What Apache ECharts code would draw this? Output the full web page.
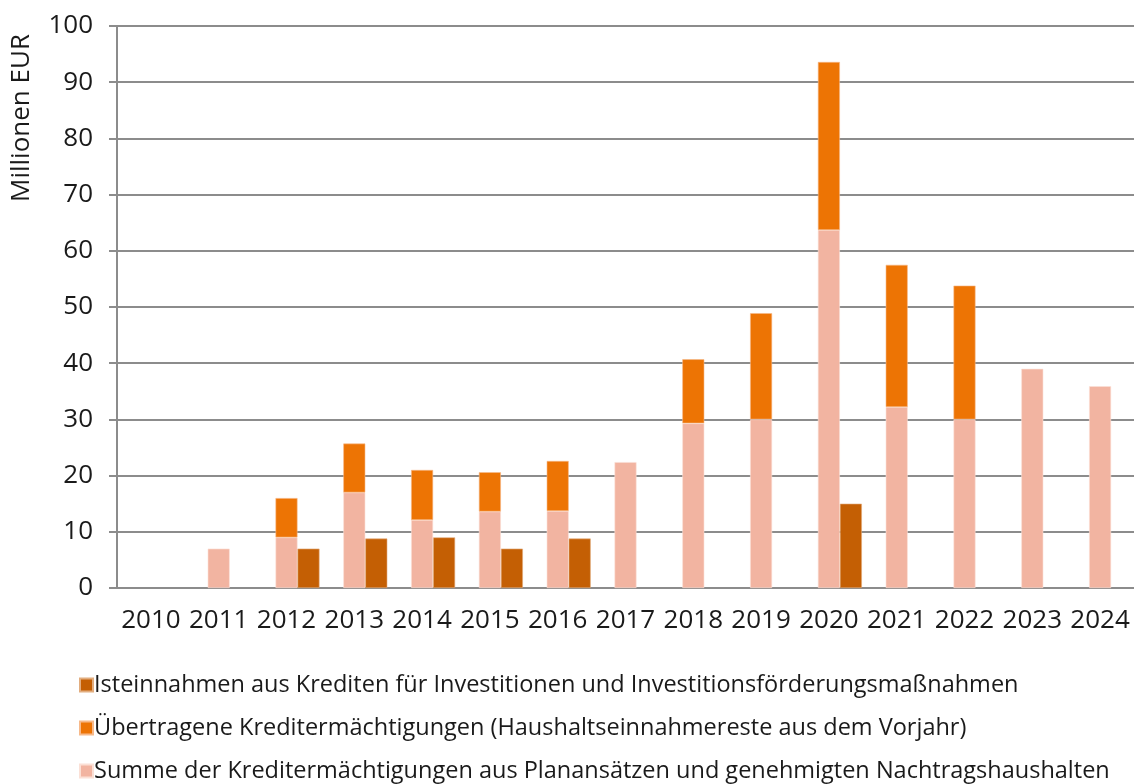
<!DOCTYPE html>
<html>
<head>
<meta charset="utf-8">
<script src="https://cdn.jsdelivr.net/npm/echarts@6/dist/echarts.min.js"></script>
<style>
  html, body { margin: 0; padding: 0; background: #fff; }
  #chart { width: 1134px; height: 784px; }
</style>
</head>
<body>
<div id="chart"></div>
<script>
const years = ['2010', '2011', '2012', '2013', '2014', '2015', '2016', '2017', '2018', '2019', '2020', '2021', '2022', '2023', '2024']
// Summe der Kreditermächtigungen aus Planansätzen und Nachtragshaushalten
const planValues = [null, 7.0, 9.0, 17.0, 12.1, 13.6, 13.7, 22.4, 29.3, 30.0, 63.7, 32.2, 30.0, 39.0, 35.9]
// Übertragene Kreditermächtigungen (stacked on top)
const carryValues = [null, null, 7.0, 8.7, 8.9, 7.0, 8.9, null, 11.4, 18.9, 29.9, 25.3, 23.8, null, null]
// Isteinnahmen aus Krediten
const actualValues = [null, null, 7.0, 8.8, 9.0, 7.0, 8.8, null, null, null, 15.0, null, null, null, null]
const yTicks = [0, 10, 20, 30, 40, 50, 60, 70, 80, 90, 100]

const nameActual = 'Isteinnahmen aus Krediten für Investitionen und Investitionsförderungsmaßnahmen'
const nameCarry = 'Übertragene Kreditermächtigungen (Haushaltseinnahmereste aus dem Vorjahr)'
const namePlan = 'Summe der Kreditermächtigungen aus Planansätzen und genehmigten Nachtragshaushalten'

const font = '"Open Sans", "Noto Sans", sans-serif'
const chart = echarts.init(document.getElementById('chart'))

chart.setOption({
  animation: false,
  textStyle: { fontFamily: font },
  grid: { left: 117, right: 0, top: 26, bottom: 196 },
  graphic: [{
    type: 'text',
    left: 9,
    top: 34,
    rotation: Math.PI / 2,
    style: { text: 'Millionen EUR', font: '26px ' + font, fill: '#1a1a1a' }
  }],
  legend: {
    orient: 'vertical',
    left: 79,
    top: 673,
    padding: 0,
    itemGap: 19,
    itemWidth: 13,
    itemHeight: 13,
    icon: 'rect',
    data: [nameActual, nameCarry, namePlan],
    textStyle: { fontSize: 23.5, lineHeight: 23, color: '#1a1a1a', fontFamily: font, padding: [0, 0, 0, -4] }
  },
  xAxis: {
    type: 'category',
    data: years,
    axisLine: { lineStyle: { color: '#8c8c8c', width: 2 } },
    axisTick: { show: false },
    axisLabel: { fontSize: 26, color: '#1a1a1a', margin: 20, fontFamily: font, interval: 0 }
  },
  yAxis: {
    type: 'value',
    min: yTicks[0],
    max: yTicks[yTicks.length - 1],
    interval: 10,
    axisLine: { show: true, lineStyle: { color: '#8c8c8c', width: 2 } },
    axisTick: { show: true, length: 8, lineStyle: { color: '#8c8c8c', width: 2 } },
    splitLine: { lineStyle: { color: '#8c8c8c', width: 2 } },
    axisLabel: { fontSize: 26, color: '#1a1a1a', margin: 24, fontFamily: font }
  },
  series: [
    {
      // empty slot so that the stacked bar sits centred on its year
      name: 'spacer',
      type: 'bar',
      barWidth: 22,
      barGap: '0%',
      data: [],
      silent: true
    },
    {
      name: namePlan,
      type: 'bar',
      stack: 'plan',
      barWidth: 22,
      barGap: '0%',
      itemStyle: { color: '#f2b4a1', borderColor: '#fbe0d6', borderWidth: 0.6 },
      data: planValues
    },
    {
      name: nameCarry,
      type: 'bar',
      stack: 'plan',
      barWidth: 22,
      itemStyle: { color: '#ed7404', borderColor: '#f7b98a', borderWidth: 0.6 },
      data: carryValues
    },
    {
      name: nameActual,
      type: 'bar',
      barWidth: 22,
      barGap: '0%',
      itemStyle: { color: '#c45f04', borderColor: '#e2ad7f', borderWidth: 0.6 },
      data: actualValues
    }
  ]
})
</script>
</body>
</html>
